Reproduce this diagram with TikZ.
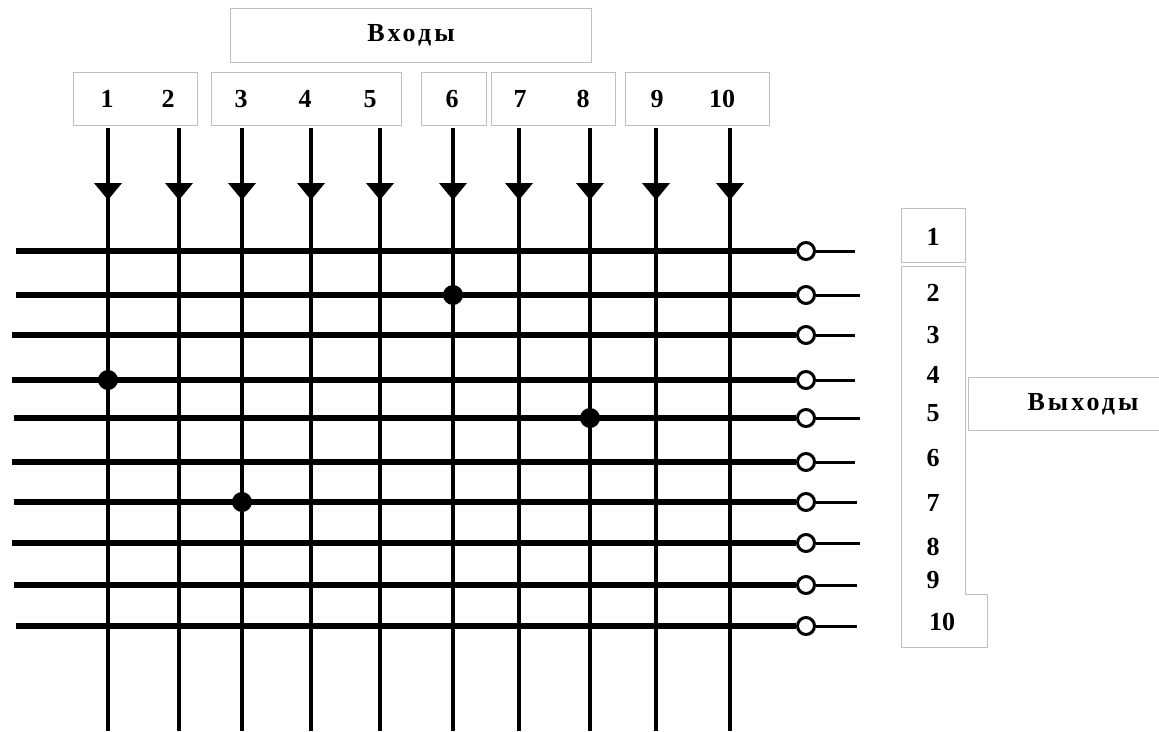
\documentclass[tikz,border=0pt]{standalone}
\usepackage{fontspec}
\setmainfont{Liberation Serif}
\begin{document}
\begin{tikzpicture}[x=1pt,y=-1pt,
  lbox/.style={draw=black!25,line width=1pt,inner sep=0pt},
  lbl/.style={font=\fontsize{26}{26}\selectfont\bfseries\addfontfeature{LetterSpace=12},inner sep=0pt},
  num/.style={font=\fontsize{26}{26}\selectfont\bfseries,inner sep=0pt},
  inline/.style={line width=4pt},
  outline/.style={line width=6pt},
  tail/.style={line width=3pt},
  tip/.style={fill=black},
  term/.style={circle,draw,line width=3pt,fill=white,minimum size=17pt,inner sep=0pt},
  dot/.style={circle,fill=black,minimum size=20pt,inner sep=0pt}]
\useasboundingbox (0,0) rectangle (1159,731);
% top label boxes
\node[lbox,minimum width=361pt,minimum height=54pt] (bin) at (410.5,35) {};
\node[lbl] (tin) at (411,35) {Входы};
\node[lbox,minimum width=124pt,minimum height=53pt] (b12) at (135,98.5) {};
\node[lbox,minimum width=190pt,minimum height=53pt] (b35) at (306,98.5) {};
\node[lbox,minimum width=65pt,minimum height=53pt] (b6) at (453.5,98.5) {};
\node[lbox,minimum width=124pt,minimum height=53pt] (b78) at (553,98.5) {};
\node[lbox,minimum width=144pt,minimum height=53pt] (b910) at (697,98.5) {};
% input numbers
\foreach \i/\x in {1/107,2/168,3/241,4/305,5/370,6/452,7/520,8/583,9/657,10/722}
  \node[num] (n\i) at (\x,99) {\i};
% vertical input lines
\foreach \i/\x in {1/108,2/179,3/242,4/311,5/380,6/453,7/519,8/590,9/656,10/730}{
  \coordinate (vt\i) at (\x,128);
  \coordinate (vb\i) at (\x,731);
  \draw[inline] (vt\i) -- (vb\i);
  \fill[tip] (\x-14,183) -- (\x+14,183) -- (\x,200) -- cycle;
}
% horizontal output lines
\foreach \j/\y/\xl/\xr in {1/251/16/855,2/295/16/860,3/335/12/855,4/380/12/855,5/418/14/860,6/462/12/855,7/502/14/857,8/543/12/860,9/585/14/857,10/626/16/857}{
  \coordinate (hl\j) at (\xl,\y);
  \node[term] (c\j) at (806,\y) {};
  \coordinate (hr\j) at (\xr,\y);
  \draw[outline] (hl\j) -- (c\j.west);
  \draw[tail] (c\j.east) -- (hr\j);
}
% connection points
\node[dot] (d1) at (453,295) {};
\node[dot] (d2) at (108,380) {};
\node[dot] (d3) at (590,418) {};
\node[dot] (d4) at (242,502) {};
% right label boxes
\node[lbox,minimum width=64pt,minimum height=54pt] (o1box) at (933,235) {};
\draw[draw=black!25,line width=1pt] (901,266) -- (965,266) -- (965,594) -- (987,594) -- (987,647) -- (901,647) -- cycle;
\node[lbox,minimum width=200pt,minimum height=53pt] (bout) at (1068,403.5) {};
\node[lbl] (tout) at (1083,404) {Выходы};
\foreach \j/\y in {1/237,2/293,3/335,4/375,5/413,6/458,7/503,8/547,9/580}
  \node[num] (m\j) at (933,\y) {\j};
\node[num] (m10) at (942,622) {10};
\end{tikzpicture}
\end{document}
